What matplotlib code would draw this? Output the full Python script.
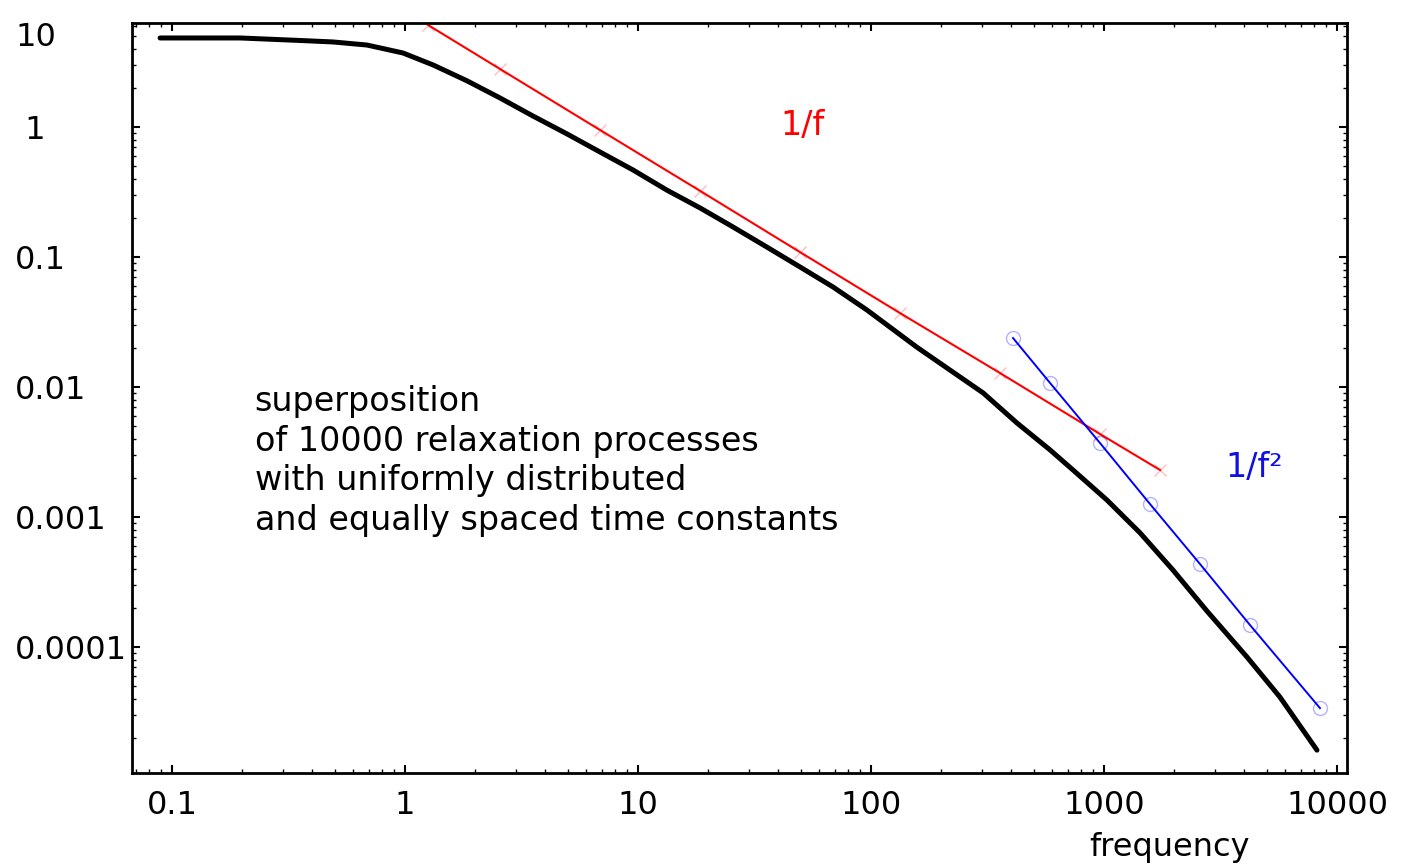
import matplotlib
matplotlib.use('Agg')
import matplotlib.pyplot as plt

# superposition of relaxation processes (black curve)
freq = [0.0888, 0.196, 0.354, 0.491, 0.687, 0.98, 1.32, 1.85, 2.56, 3.54,
        4.96, 6.87, 9.52, 13.3, 18.5, 25.6, 35.8, 49.6, 68.7, 96.1,
        157, 218, 303, 423, 587, 736, 1030, 1429, 1977, 2767,
        4110, 5690, 8204]
power = [4.84, 4.84, 4.63, 4.51, 4.27, 3.71, 3.00, 2.26, 1.67, 1.215,
         0.884, 0.642, 0.467, 0.327, 0.238, 0.170, 0.119, 0.0838, 0.0588, 0.0391,
         0.0203, 0.01352, 0.0090, 0.00529, 0.00328, 0.0023, 0.00135, 7.54e-4, 3.91e-4, 1.89e-4,
         8.37e-5, 4.12e-5, 1.61e-5]

# 1/f reference line
f_red = [1.255, 2.56, 6.87, 18.5, 49.6, 133, 358, 961, 1740]
p_red = [6.09, 2.79, 0.948, 0.322, 0.109, 0.0371, 0.0128, 0.00435, 0.0023]

# 1/f^2 reference line
f_blue = [407, 587, 961, 1575, 2582, 4233, 8451]
p_blue = [0.0238, 0.01073, 0.00371, 0.00126, 4.35e-4, 1.476e-4, 3.39e-5]

xticks = [0.1, 1, 10, 100, 1000, 10000]
xtick_labels = ['0.1', '1', '10', '100', '1000', '10000']
yticks = [1, 0.1, 0.01, 0.001, 0.0001]
ytick_labels = [' 1', '0.1', '0.01', '0.001', '0.0001']

note = ('superposition\n'
        'of 10000 relaxation processes\n'
        'with uniformly distributed\n'
        'and equally spaced time constants')

fig = plt.figure(figsize=(14.07, 8.68), dpi=100)
ax = fig.add_axes([132 / 1407, 1 - 773 / 868, 1215 / 1407, 750 / 868])

ax.plot(f_red, p_red, c='#ff0000', linewidth=1.5, marker='x', markersize=9,
        markeredgecolor=(1, 0, 0, 0.25), markeredgewidth=1)
ax.plot(f_blue, p_blue, c='#0000ff', linewidth=1.4, marker='o', markersize=10,
        markerfacecolor='none', markeredgecolor=(0, 0, 1, 0.3), markeredgewidth=1)
ax.plot(freq, power, c='k', linewidth=3.6, solid_capstyle='round')

ax.set_xscale('log')
ax.set_yscale('log')
ax.set_xlim(0.0673, 11040)
ax.set_ylim(1.074e-5, 6.31)

ax.set_xticks(xticks)
ax.set_xticklabels(xtick_labels, fontsize=23)
ax.set_yticks(yticks)
ax.set_yticklabels(ytick_labels, fontsize=23)
for lab in ax.get_yticklabels():
    lab.set_horizontalalignment('left')

ax.tick_params(which='both', direction='in', top=True, right=True)
ax.tick_params(axis='y', which='major', length=6, width=1.5, pad=84)
ax.tick_params(axis='x', which='major', length=6, width=1.5, pad=12)
ax.tick_params(which='minor', length=3, width=1)
for sp in ax.spines.values():
    sp.set_linewidth(2)

ax.text(-0.0963, 0.98, '10', transform=ax.transAxes, fontsize=23,
        ha='left', va='center')

ax.set_xlabel('frequency', fontsize=23)
ax.xaxis.set_label_coords(0.854, -0.079)

ax.text(0.101, 0.517, note, transform=ax.transAxes, fontsize=24,
        ha='left', va='top', linespacing=1.25)
ax.text(0.552, 0.864, '1/f', transform=ax.transAxes, fontsize=24,
        color='#ff0000', ha='center', va='center')
ax.text(0.924, 0.408, '1/f\u00b2', transform=ax.transAxes, fontsize=24,
        color='#1010e0', ha='center', va='center')

fig.savefig('out.png', dpi=100)
